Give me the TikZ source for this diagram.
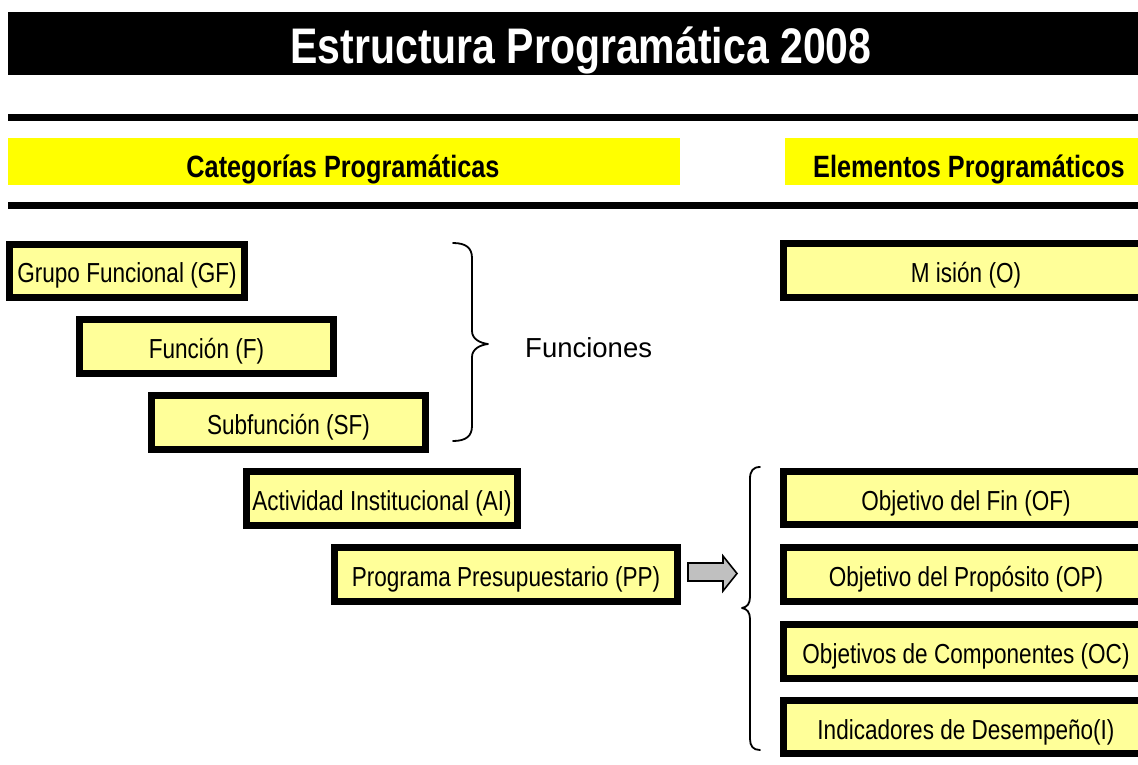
\documentclass[tikz,border=0pt]{standalone}
\usepackage{fontspec}
\setmainfont{Liberation Sans}[FakeStretch=0.82]
\newfontfamily\plainfont{Liberation Sans}
\definecolor{boxfill}{HTML}{FFFF99}
\definecolor{hdrfill}{HTML}{FFFF00}
\definecolor{arrowgray}{HTML}{C0C0C0}
\tikzset{
  catbox/.style={draw=black, line width=7pt, fill=boxfill, inner sep=0pt,
    font=\fontsize{27.5}{30}\selectfont, minimum height=54pt,
    text height=24pt, text depth=0pt},
  hdrtext/.style={inner sep=0pt, anchor=base, font=\bfseries\fontsize{30.8}{33}\selectfont},
  bracepath/.style={draw=black, line width=1.8pt, line cap=round, line join=round},
}
\begin{document}
\begin{tikzpicture}[x=1pt,y=-1pt]
\useasboundingbox (0,0) rectangle (1138,764);
\begin{scope}
\clip (0,0) rectangle (1138,764);
% title bar and rules
\fill[black] (8,12) rectangle (1150,75);
\node[inner sep=0pt, anchor=base, text=white, font=\bfseries\fontsize{50}{54}\selectfont] (title) at (581,63) {Estructura Programática 2008};
\fill[black] (8,114) rectangle (1150,121);
\fill[hdrfill] (8,138) rectangle (680,185);
\fill[hdrfill] (785,138) rectangle (1150,185);
\node[hdrtext] (hcat) at (343,177) {Categorías Programáticas};
\node[hdrtext] (helem) at (969,177) {Elementos Programáticos};
\fill[black] (8,202) rectangle (1150,209);
% left boxes
\node[catbox, minimum width=235pt, minimum height=53pt] (gf) at (127,270.5) {Grupo Funcional (GF)};
\node[catbox, minimum width=254pt] (f) at (206.5,346.5) {Función (F)};
\node[catbox, minimum width=274pt] (sf) at (288.5,422.5) {Subfunción (SF)};
\node[catbox, minimum width=271pt] (ai) at (382,498.5) {Actividad Institucional (AI)};
\node[catbox, minimum width=343pt] (pp) at (506,574.5) {Programa Presupuestario (PP)};
% right boxes
\node[catbox, minimum width=365pt] (mision) at (966,270.5) {M isión (O)};
\node[catbox, minimum width=365pt, minimum height=53pt] (of) at (966,498) {Objetivo del Fin (OF)};
\node[catbox, minimum width=365pt] (op) at (966,574.5) {Objetivo del Propósito (OP)};
\node[catbox, minimum width=365pt] (oc) at (966,651.5) {Objetivos de Componentes (OC)};
\node[catbox, minimum width=365pt, minimum height=53pt] (ind) at (966,727) {Indicadores de Desempeño(I)};
% brace for Funciones
\draw[bracepath] (453,243) .. controls (466,243) and (472,248) .. (472,258) -- (472,331)
  .. controls (472,339) and (480,343) .. (488,344)
  .. controls (480,345) and (472,349) .. (472,357) -- (472,426)
  .. controls (472,436) and (466,441) .. (453,441);
\node[inner sep=0pt, anchor=base west, font=\plainfont\fontsize{27.5}{30}\selectfont] (funciones) at (525,357) {Funciones};
% gray block arrow
\draw[fill=arrowgray, line width=1.6pt, line join=miter] (688,563) -- (723,563) -- (723,556) -- (737,573.5) -- (723,591) -- (723,581) -- (688,581) -- cycle;
% brace for elements
\draw[bracepath] (760,467) .. controls (753,467) and (750,471) .. (750,479) -- (750,597)
  .. controls (750,604) and (747,607) .. (742,608)
  .. controls (747,609) and (750,612) .. (750,619) -- (750,739)
  .. controls (750,746) and (753,750) .. (760,750);
\end{scope}
\end{tikzpicture}
\end{document}
